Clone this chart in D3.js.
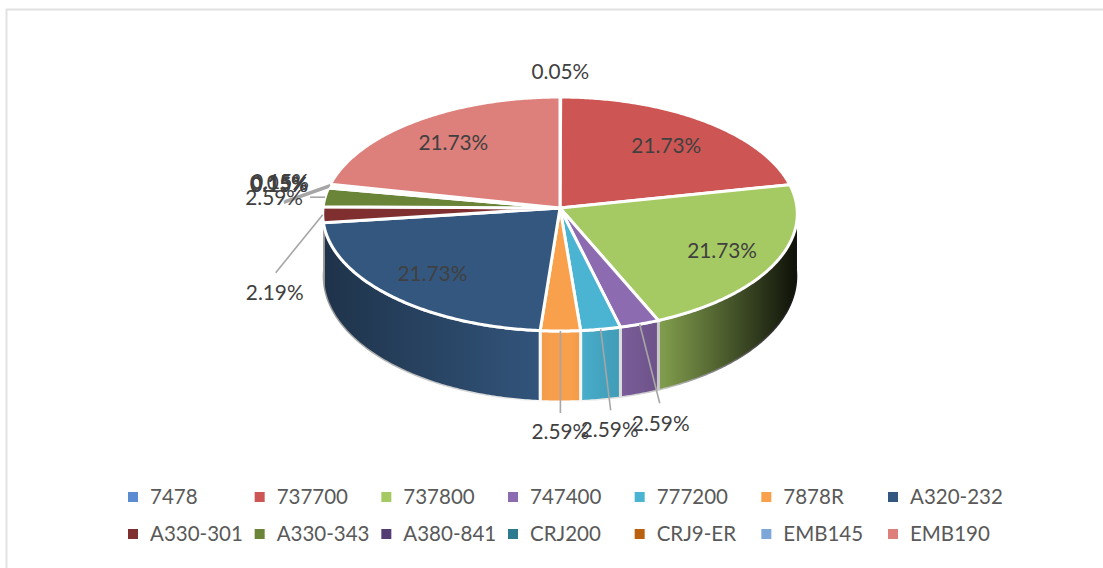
<!DOCTYPE html>
<html>
<head>
<meta charset="utf-8">
<script src="https://cdnjs.cloudflare.com/ajax/libs/d3/7.8.5/d3.min.js"></script>
<style>
html, body { margin: 0; padding: 0; background: #fff; overflow: hidden; }
text { font-family: Lato, "Open Sans", sans-serif; fill: #595959; }
</style>
</head>
<body>
<svg width="1103" height="568"></svg>
<script>
var categories = ["7478", "737700", "737800", "747400", "777200", "7878R", "A320-232",
    "A330-301", "A330-343", "A380-841", "CRJ200", "CRJ9-ER", "EMB145", "EMB190"];
var shares = [0.05, 21.73, 21.73, 2.59, 2.59, 2.59, 21.73, 2.19, 2.59, 0.15, 0.15, 0.05, 0.15, 21.73];
var colors = ["#5b8bd0", "#cd5654", "#a6ca63", "#8d6bb1", "#4bb4d3", "#f9a04d", "#34577f",
    "#7f2f2f", "#6a8438", "#543d72", "#2b7a8f", "#b9610f", "#7da6d9", "#dd7f7b"];

// label placement relative to the slice's outer edge: [dx, dy], then where its leader stops
var labelOffsets = {
    "7478": [0, -25],
    "737700": [-38, 24],
    "737800": [-53, -13],
    "747400": [21, 99, 20, 79],
    "777200": [9, 100, 10, 81],
    "7878R": [0, 101, 0, 82],
    "A320-232": [42, -22],
    "A330-301": [-48, 78, -47, 58],
    "A330-343": [-51, 0, -15, 0],
    "A380-841": [-50, -3, -45, 16],
    "CRJ200": [-50, -2, -45, 16],
    "CRJ9-ER": [-51, -3, -46, 16],
    "EMB145": [-50, -3, -45, 16],
    "EMB190": [37, 22]
};

var svg = d3.select("svg");
var cx = 560, cy = 208, rx = 237;
var defs = svg.append("defs");

var shade = defs.append("linearGradient")
    .attr("id", "shade")
    .attr("gradientUnits", "userSpaceOnUse")
    .attr("x1", cx - rx).attr("x2", cx + rx)
    .attr("y1", 0).attr("y2", 0);
[[0, 0.42], [0.47, 0.02], [0.52, 0], [0.585, 0.09], [0.72, 0.24], [0.85, 0.55], [1, 0.92]].forEach(function(s) {
    shade.append("stop").attr("offset", s[0]).attr("stop-color", "#000").attr("stop-opacity", s[1]);
});

// the frame around the pasted chart, only top and left show
svg.append("path")
    .attr("d", "M6.5,568V9.5H1103")
    .attr("fill", "none")
    .attr("stroke", "#e2e2e2")
    .attr("stroke-width", 2);

// tilted pie: the front half looks a little bigger than the back half
function px(a) { return cx + rx * Math.sin(a) * (1 - 0.05 * Math.cos(a)); }
function py(a) { var c = Math.cos(a); return cy - 117 * c + 6 * c * c; }
function depth(a) { return 62 - 9 * Math.cos(a); }

var pie = d3.pie().sort(null).value(function(d) { return d; })
    .startAngle(0).endAngle(2 * Math.PI);
var slices = pie(shares);
var line = d3.line();

function samples(a0, a1) {
    var n = Math.max(2, Math.ceil((a1 - a0) / 0.01));
    return d3.range(n + 1).map(function(i) { return a0 + (a1 - a0) * i / n; });
}

function wallPath(d) {
    var a0 = Math.max(d.startAngle, Math.PI / 2);
    var a1 = Math.min(d.endAngle, 3 * Math.PI / 2);
    if (a1 <= a0) return null;
    var as = samples(a0, a1);
    var top = as.map(function(a) { return [px(a), py(a)]; });
    var bottom = as.slice().reverse().map(function(a) { return [px(a), py(a) + depth(a)]; });
    return line(top.concat(bottom)) + "Z";
}

function topPath(d) {
    var pts = samples(d.startAngle, d.endAngle).map(function(a) { return [px(a), py(a)]; });
    return line([[cx, cy]].concat(pts)) + "Z";
}

var walls = slices.filter(function(d) { return wallPath(d) !== null; });

svg.selectAll("path.wall")
    .data(walls)
    .enter().append("path")
    .attr("class", "wall")
    .attr("d", wallPath)
    .attr("fill", function(d) { return colors[d.index]; })
    .attr("stroke", "#fff")
    .attr("stroke-width", 3)
    .attr("stroke-linejoin", "round");

svg.selectAll("path.wallshade")
    .data(walls)
    .enter().append("path")
    .attr("class", "wallshade")
    .attr("d", wallPath)
    .attr("fill", "url(#shade)");

svg.selectAll("path.top")
    .data(slices)
    .enter().append("path")
    .attr("class", "top")
    .attr("d", topPath)
    .attr("fill", function(d) { return colors[d.index]; })
    .attr("stroke", "#fff")
    .attr("stroke-width", 3)
    .attr("stroke-linejoin", "round");

// data labels and leader lines
function midAngle(d) { return (d.startAngle + d.endAngle) / 2; }
function offsets(d) { return labelOffsets[categories[d.index]]; }
var fmt = d3.format(".2f");

svg.selectAll("line.leader")
    .data(slices.filter(function(d) { return offsets(d).length > 2; }))
    .enter().append("line")
    .attr("class", "leader")
    .attr("x1", function(d) { return px(midAngle(d)); })
    .attr("y1", function(d) { return py(midAngle(d)); })
    .attr("x2", function(d) { return px(midAngle(d)) + offsets(d)[2]; })
    .attr("y2", function(d) { return py(midAngle(d)) + offsets(d)[3]; })
    .attr("stroke", "#a6a6a6")
    .attr("stroke-width", 1.6);

svg.selectAll("text.share")
    .data(slices)
    .enter().append("text")
    .attr("class", "share")
    .attr("x", function(d) { return px(midAngle(d)) + offsets(d)[0]; })
    .attr("y", function(d) { return py(midAngle(d)) + offsets(d)[1]; })
    .attr("dy", "0.36em")
    .attr("text-anchor", "middle")
    .attr("font-size", 20.8)
    .style("fill", "#404040")
    .text(function(d) { return fmt(d.value) + "%"; });

// legend, two rows of seven
var colX = d3.scalePoint().domain(d3.range(7)).range([128, 888]);
var rowY = d3.scalePoint().domain([0, 1]).range([497, 534]);

var legend = svg.selectAll("g.legend")
    .data(categories)
    .enter().append("g")
    .attr("class", "legend")
    .attr("transform", function(d, i) {
        return "translate(" + colX(i % 7) + "," + rowY(Math.floor(i / 7)) + ")";
    });

legend.append("rect")
    .attr("y", -5)
    .attr("width", 10)
    .attr("height", 10)
    .attr("fill", function(d, i) { return colors[i]; });

legend.append("text")
    .attr("x", 22)
    .attr("dy", "0.36em")
    .attr("font-size", 20.5)
    .text(function(d) { return d; });
</script>
</body>
</html>
